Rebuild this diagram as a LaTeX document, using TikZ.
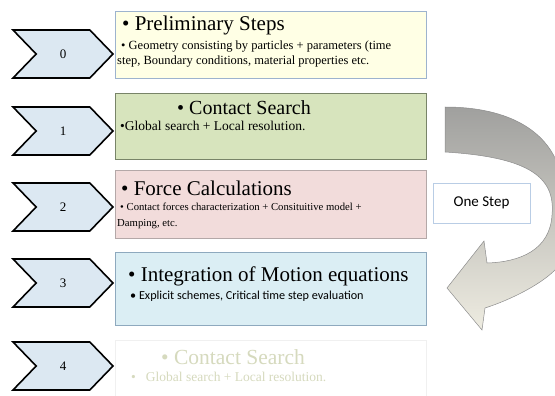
\documentclass[tikz,border=0pt]{standalone}
\usepackage{fontspec}
\setmainfont{Liberation Serif}
\newfontfamily\calibrifont{Carlito}
\usetikzlibrary{shapes.symbols}

\definecolor{chevfill}{RGB}{220,232,242}
\definecolor{yellowfill}{RGB}{255,255,229}
\definecolor{yellowline}{RGB}{157,179,206}
\definecolor{greenfill}{RGB}{215,228,189}
\definecolor{greenline}{RGB}{120,132,104}
\definecolor{pinkfill}{RGB}{242,220,219}
\definecolor{pinkline}{RGB}{180,168,168}
\definecolor{bluefill}{RGB}{219,238,244}
\definecolor{blueline}{RGB}{142,169,190}
\definecolor{paleline}{RGB}{240,240,240}
\definecolor{paletext}{RGB}{214,218,190}
\definecolor{onestepline}{RGB}{185,205,229}
\definecolor{arrowdark}{RGB}{160,160,158}
\definecolor{arrowmid}{RGB}{214,213,206}
\definecolor{arrowlight}{RGB}{238,236,225}
\definecolor{arrowline}{RGB}{140,140,140}

\begin{document}
\begin{tikzpicture}[
  x=1pt, y=-1pt,
  chev/.style={draw, line width=1.6pt, fill=chevfill, shape=signal,
               signal from=west, signal to=east, signal pointer angle=92,
               minimum width=100pt, minimum height=48pt, inner sep=0pt,
               font=\fontsize{13}{15}\selectfont},
  stepbox/.style={draw, line width=0.7pt, anchor=north west,
                  minimum width=311pt, inner sep=0pt},
  head/.style={anchor=base west, inner sep=0pt, font=\fontsize{21}{23}\selectfont},
  sub/.style={anchor=base west, inner sep=0pt},
]
\useasboundingbox (0,0) rectangle (555,396);

% curved arrow behind everything, cut at the right edge
\begin{scope}
\clip (0,0) rectangle (555,396);
\shade[top color=arrowdark, middle color=arrowmid, bottom color=arrowlight,
       draw=arrowline, line width=0.5pt]
  (445,107) .. controls (500,107) and (540,125) .. (556,160)
  .. controls (575,200) and (575,250) .. (555,270)
  .. controls (540,285) and (510,300) .. (485,308)
  -- (482,330) -- (447,288) -- (484,241) -- (487,263)
  .. controls (520,262) and (550,250) .. (552,215)
  .. controls (556,175) and (525,157) .. (445,152) -- cycle;
\end{scope}

% chevrons on the left
\node[chev] (c0) at (63,54)  {0};
\node[chev] (c1) at (63,131) {1};
\node[chev] (c2) at (63,207) {2};
\node[chev] (c3) at (63,283) {3};
\node[chev] (c4) at (63,366) {4};

% step boxes
\node[stepbox, fill=yellowfill, draw=yellowline, minimum height=67pt] (b0) at (115,11)  {};
\node[stepbox, fill=greenfill,  draw=greenline,  minimum height=66pt] (b1) at (115,93)  {};
\node[stepbox, fill=pinkfill,   draw=pinkline,   minimum height=68pt] (b2) at (115,170) {};
\node[stepbox, fill=bluefill,   draw=blueline,   minimum height=73pt] (b3) at (115,252) {};
\node[stepbox, fill=white,      draw=paleline,   minimum height=60pt] (b4) at (115,340) {};

% texts of the boxes
\node[head] (t0h) at (122,31) {• Preliminary Steps};
\node[sub, font=\fontsize{12.5}{14}\selectfont] (t0a) at (121,50)
  {• Geometry consisting by particles + parameters (time};
\node[sub, font=\fontsize{12.5}{14}\selectfont] (t0b) at (117,65)
  {step, Boundary conditions, material properties etc.};

\node[head, font=\fontsize{20}{22}\selectfont] (t1h) at (177,115) {• Contact Search};
\node[sub, font=\fontsize{13.5}{15}\selectfont] (t1a) at (120,131) {•Global search + Local resolution.};

\node[head] (t2h) at (121,195) {• Force Calculations};
\node[sub, font=\fontsize{10.7}{13}\selectfont] (t2a) at (120,210)
  {• Contact forces characterization + Consituitive model +};
\node[sub, font=\fontsize{10.7}{13}\selectfont] (t2b) at (117,226) {Damping, etc.};

\node[head] (t3h) at (128,281) {• Integration of Motion equations};
\node[sub, font=\calibrifont\fontsize{12.2}{14}\selectfont] (t3a) at (130,299)
  {• Explicit schemes, Critical time step evaluation};

\node[head, text=paletext, font=\fontsize{21.5}{23}\selectfont] (t4h) at (161,364) {• Contact Search};
\node[sub, text=paletext, font=\fontsize{13.5}{15}\selectfont] (t4a) at (131,381)
  {•\hspace{10pt}Global search + Local resolution.};

% one step label
\node[draw=onestepline, fill=white, line width=0.7pt, minimum width=97pt, minimum height=40pt,
      font=\calibrifont\fontsize{15}{17}\selectfont] (onestep) at (481.5,203) {One Step};
\end{tikzpicture}
\end{document}
